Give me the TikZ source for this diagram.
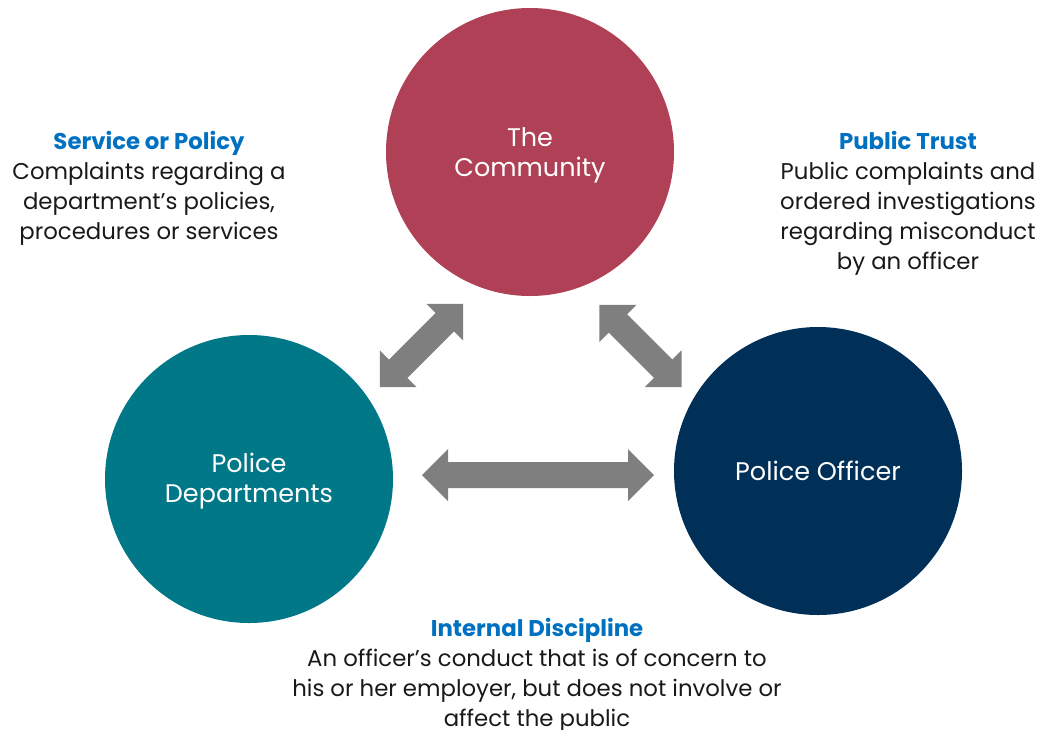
\documentclass[tikz,border=0pt]{standalone}
\usepackage{fontspec}
\setmainfont{Poppins}
\definecolor{commred}{HTML}{B04055}
\definecolor{deptteal}{HTML}{007888}
\definecolor{officernavy}{HTML}{003057}
\definecolor{headblue}{HTML}{0070C0}
\definecolor{arrowgray}{HTML}{7F7F7F}
\tikzset{
  party/.style={circle, minimum size=288pt, inner sep=0pt},
  partytext/.style={text=white, align=center, inner sep=0pt,
    font=\fontsize{25.5}{30}\selectfont},
  note/.style={align=center, inner sep=0pt, text=black!90,
    font=\fontsize{22.8}{30}\selectfont},
  blockarrow/.style={fill=arrowgray, draw=none}
}
% block double arrow of length #1 centred on the origin, along x
\newcommand{\dblblock}[1]{%
  (-#1/2,0) -- (-#1/2+26,26) -- (-#1/2+26,13) -- (#1/2-26,13) -- (#1/2-26,26) --
  (#1/2,0) -- (#1/2-26,-26) -- (#1/2-26,-13) -- (-#1/2+26,-13) -- (-#1/2+26,-26) -- cycle}
\begin{document}
\begin{tikzpicture}[x=1pt, y=-1pt]
\useasboundingbox (0,0) rectangle (1041,729);

\node[party, fill=commred] (comm) at (530,152) {};
\node[party, fill=deptteal] (dept) at (249,479) {};
\node[party, fill=officernavy] (off) at (818,471) {};
\node[partytext] (commlbl) at ([yshift=-3pt]comm.center) {The\\Community};
\node[partytext] (deptlbl) at ([yshift=-2pt]dept.center) {Police\\Departments};
\node[partytext] (offlbl) at (off.center) {Police Officer};

% double arrows between the three parties
\fill[blockarrow, shift={(421.5,345.5)}, rotate=45] \dblblock{118};
\fill[blockarrow, shift={(640.5,346)}, rotate=-45] \dblblock{116};
\fill[blockarrow, shift={(538,475)}] \dblblock{232};

\node[note] (svc) at (149,188.5) {{\color{headblue}\bfseries Service or Policy}\\
  Complaints regarding a\\department’s policies,\\procedures or services};
\node[note] (trust) at (908,203) {{\color{headblue}\bfseries Public Trust}\\
  Public complaints and\\ordered investigations\\regarding misconduct\\by an officer};
\node[note] (disc) at (537,675.5) {{\color{headblue}\bfseries Internal Discipline}\\
  An officer’s conduct that is of concern to\\his or her employer, but does not involve or\\affect the public};
\end{tikzpicture}
\end{document}
